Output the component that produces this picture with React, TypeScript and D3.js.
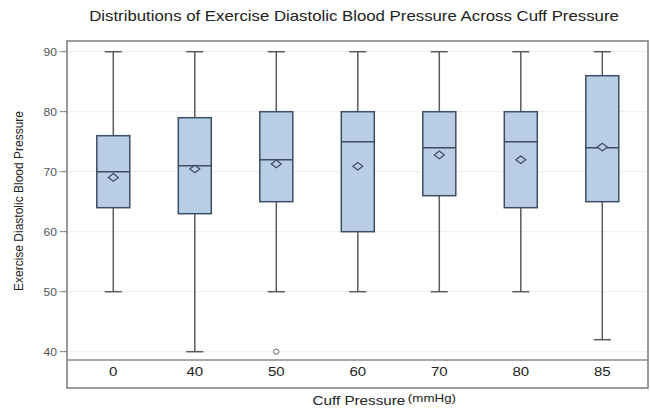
import React from "react";
import * as d3 from "d3";

const categories = ["0", "40", "50", "60", "70", "80", "85"];
const whiskerLow = [50, 40, 50, 50, 50, 50, 42];
const q1 = [64, 63, 65, 60, 66, 64, 65];
const median = [70, 71, 72, 75, 74, 75, 74];
const q3 = [76, 79, 80, 80, 80, 80, 86];
const whiskerHigh = [90, 90, 90, 90, 90, 90, 90];
const means = [69.05, 70.45, 71.3, 70.9, 72.8, 72.0, 74.1];
const outliers: { cat: string; value: number }[] = [{ cat: "50", value: 40 }];
const yTicks = [40, 50, 60, 70, 80, 90];

const W = 650;
const H = 408;
const frame = { left: 67, right: 648, top: 41, bottom: 388, sep: 360 };

export default function App() {
  const xc = d3
    .scalePoint<string>()
    .domain(categories)
    .range([113.3, 602.3]);
  const y = d3.scaleLinear().domain([40, 90]).range([351.7, 51.7]);
  const boxW = 33;
  const capW = 17;
  const font = "'Liberation Sans', Arial, sans-serif";
  const boxStroke = "#3d4e63";
  const whiskerStroke = "#5a5a5a";
  const fill = "#b9cde5";

  const diamond = (cx: number, cy: number) =>
    `M${cx - 5},${cy} L${cx},${cy - 3.8} L${cx + 5},${cy} L${cx},${cy + 3.8} Z`;

  return (
    <svg
      width={W}
      height={H}
      style={{ position: "absolute", left: 0, top: 0, background: "#fff" }}
      fontFamily={font}
    >
      <rect x={0} y={0} width={W} height={H} fill="#fff" />
      <text
        transform="translate(354,20.5) scale(1.2,1)"
        textAnchor="middle"
        fontSize={14}
        fill="#222"
      >
        Distributions of Exercise Diastolic Blood Pressure Across Cuff Pressure
      </text>

      {/* gridlines */}
      {yTicks.map((t) => (
        <line
          key={"g" + t}
          x1={frame.left}
          x2={frame.right}
          y1={y(t)}
          y2={y(t)}
          stroke="#ececec"
          strokeWidth={1}
        />
      ))}

      {/* y ticks */}
      {yTicks.map((t) => (
        <g key={"t" + t}>
          <line x1={60} x2={frame.left} y1={y(t)} y2={y(t)} stroke="#777" strokeWidth={1} />
          <text
            transform={`translate(57,${y(t)}) scale(1.1,1)`}
            dy="0.35em"
            textAnchor="end"
            fontSize={11}
            fill="#555"
          >
            {t}
          </text>
        </g>
      ))}

      <text
        transform={`translate(23,201) rotate(-90)`}
        textAnchor="middle"
        fontSize={12}
        fill="#222"
      >
        Exercise Diastolic Blood Pressure
      </text>

      {/* boxes */}
      {categories.map((c, i) => {
        const cx = xc(c)!;
        return (
          <g key={c}>
            <line x1={cx} x2={cx} y1={y(whiskerHigh[i])} y2={y(q3[i])} stroke={whiskerStroke} strokeWidth={1.5} />
            <line x1={cx} x2={cx} y1={y(q1[i])} y2={y(whiskerLow[i])} stroke={whiskerStroke} strokeWidth={1.5} />
            <line x1={cx - capW / 2} x2={cx + capW / 2} y1={y(whiskerHigh[i])} y2={y(whiskerHigh[i])} stroke={whiskerStroke} strokeWidth={1.5} />
            <line x1={cx - capW / 2} x2={cx + capW / 2} y1={y(whiskerLow[i])} y2={y(whiskerLow[i])} stroke={whiskerStroke} strokeWidth={1.5} />
            <rect
              x={cx - boxW / 2}
              y={y(q3[i])}
              width={boxW}
              height={y(q1[i]) - y(q3[i])}
              fill={fill}
              stroke={boxStroke}
              strokeWidth={1.5}
            />
            <line x1={cx - boxW / 2} x2={cx + boxW / 2} y1={y(median[i])} y2={y(median[i])} stroke={boxStroke} strokeWidth={1.5} />
            <path d={diamond(cx, y(means[i]))} fill={fill} stroke={boxStroke} strokeWidth={1.2} />
          </g>
        );
      })}

      {outliers.map((o, i) => (
        <circle key={"o" + i} cx={xc(o.cat)!} cy={y(o.value)} r={2.6} fill="#fff" stroke="#666" strokeWidth={1} />
      ))}

      {/* frame */}
      <rect
        x={frame.left}
        y={frame.top}
        width={frame.right - frame.left}
        height={frame.bottom - frame.top}
        fill="none"
        stroke="#7a7a7a"
        strokeWidth={1.5}
      />
      <line x1={frame.left} x2={frame.right} y1={frame.sep} y2={frame.sep} stroke="#8a8a8a" strokeWidth={1.5} />

      {/* x category labels */}
      {categories.map((c) => (
        <text
          key={"x" + c}
          transform={`translate(${xc(c)!},372) scale(1.25,1)`}
          dy="0.35em"
          textAnchor="middle"
          fontSize={12}
          fill="#222"
        >
          {c}
        </text>
      ))}

      <text transform="translate(312.5,405) scale(1.27,1)" fontSize={12} fill="#222">
        Cuff Pressure
        <tspan fontSize={10.5} dx={2} dy={-3}>(mmHg)</tspan>
      </text>
    </svg>
  );
}
